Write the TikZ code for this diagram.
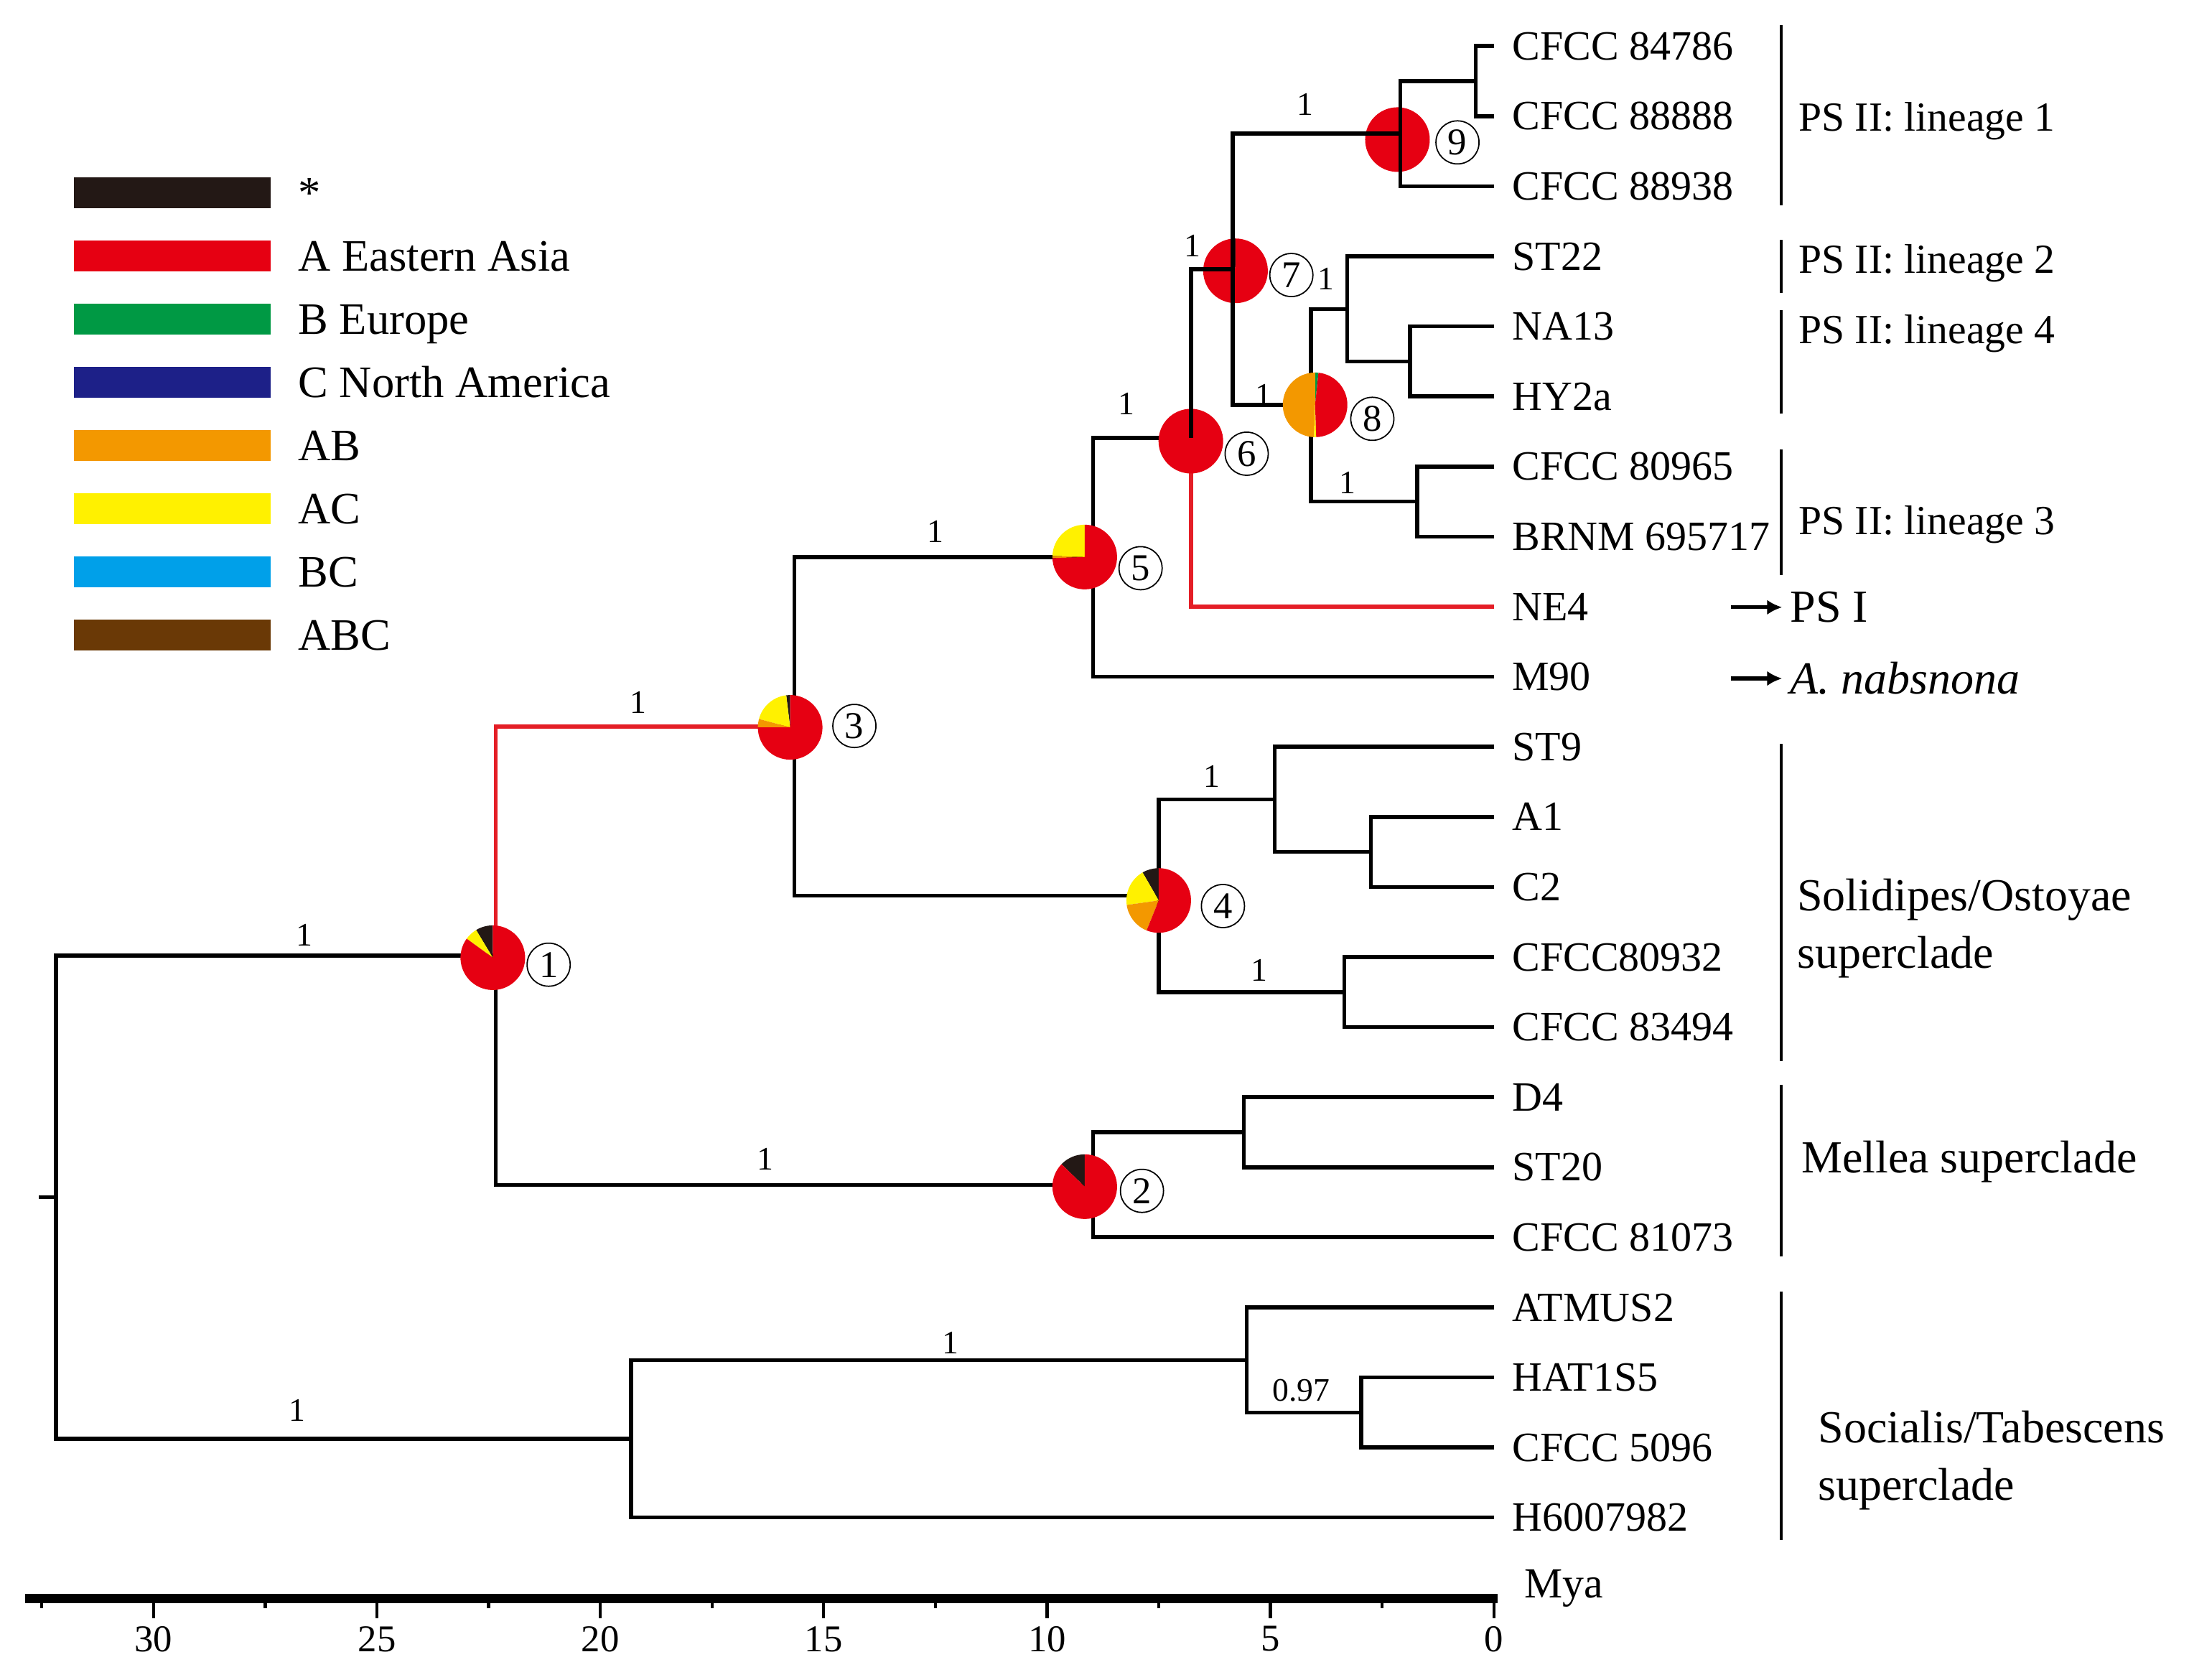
\documentclass[tikz,border=0pt]{standalone}
\usepackage{fontspec}
\setmainfont{Liberation Serif}
\usetikzlibrary{positioning,arrows.meta}

\definecolor{pblack}{RGB}{35,24,21}
\definecolor{pred}{RGB}{230,0,18}
\definecolor{pgreen}{RGB}{0,153,68}
\definecolor{pblue}{RGB}{29,32,136}
\definecolor{porange}{RGB}{243,152,0}
\definecolor{pyellow}{RGB}{255,241,0}
\definecolor{pcyan}{RGB}{0,160,233}
\definecolor{pbrown}{RGB}{106,57,6}
\definecolor{tred}{RGB}{228,30,38}

% one slice of an area pie: centre, from, to, colour
\newcommand{\pieslice}[4]{%
  \fill[#4] (#1) -- ++(#2:0.45cm) arc[start angle=#2, end angle=#3, radius=0.45cm] -- cycle;}

\begin{document}
\begin{tikzpicture}[x=0.019446cm, y=0.019446cm,
    treeline/.style={line width=1.6pt, line join=miter},
    redline/.style={treeline, draw=tred},
    leaf/.style={inner sep=0pt, text height=10.9pt, text depth=0pt, font=\fontsize{16.5}{18}\selectfont},
    lineage/.style={anchor=west, inner sep=0pt, text height=10.9pt, text depth=0pt, font=\fontsize{16.4}{18}\selectfont},
    clade/.style={anchor=west, inner sep=0pt, align=left, font=\fontsize{18.2}{22.7}\selectfont},
    support/.style={inner sep=0pt, font=\fontsize{13}{13}\selectfont},
    nodenum/.style={circle, draw, line width=0.5pt, minimum size=0.6cm, inner sep=0pt, font=\fontsize{15}{15}\selectfont},
    legbar/.style={minimum width=2.74cm, minimum height=0.43cm, inner sep=0pt},
    leglab/.style={inner sep=0pt, text height=11.9pt, text depth=0pt, font=\fontsize{17.8}{20}\selectfont},
    cladebar/.style={line width=1.1pt},
    axtick/.style={line width=1.2pt},
    axlab/.style={inner sep=0pt, font=\fontsize{15}{15}\selectfont}]
\useasboundingbox (0,0) rectangle (1568,-1203);

% Legend
\foreach \c/\txt [count=\k from 0] in {pblack/*, pred/A Eastern Asia, pgreen/B Europe, pblue/C North America,
    porange/AB, pyellow/AC, pcyan/BC, pbrown/ABC} {
  \pgfmathsetmacro{\yy}{-(138+45.3*\k)}
  \node[legbar, fill=\c] (bar\k) at (123.5,\yy) {};
  \node[leglab, right=0.37cm of bar\k] (leg\k) {\txt};
}

% Tips
\foreach \nm/\txt [count=\i from 0] in {t84786/CFCC 84786, t88888/CFCC 88888, t88938/CFCC 88938, tST22/ST22,
    tNA13/NA13, tHY2a/HY2a, t80965/CFCC 80965, tBRNM/BRNM 695717, tNE4/NE4, tM90/M90, tST9/ST9, tA1/A1, tC2/C2,
    t80932/CFCC80932, t83494/CFCC 83494, tD4/D4, tST20/ST20, t81073/CFCC 81073, tATMUS2/ATMUS2,
    tHAT1S5/HAT1S5, t5096/CFCC 5096, tH6007982/H6007982} {
  \pgfmathsetmacro{\yy}{-(33+50.19*\i)}
  \coordinate (\nm) at (1070,\yy);
  \node[leaf, right=0.25cm of \nm] (lab\nm) {\txt};
}

% Internal nodes
\coordinate (rstub) at (28,-857.6);
\coordinate (root) at (40,-857.6);
\coordinate (n1) at (355,-684.5);
\coordinate (n2) at (783,-848.7);
\coordinate (n2a) at (891,-811);
\coordinate (n3) at (569,-520.4);
\coordinate (n4) at (830,-641.6);
\coordinate (n4a) at (913,-572.6);
\coordinate (n4b) at (982,-610.2);
\coordinate (n4c) at (963,-710.6);
\coordinate (n5) at (783,-399.2);
\coordinate (n6) at (853,-313.8);
\coordinate (n7) at (883,-193);
\coordinate (n8) at (939,-290.2);
\coordinate (n8a) at (965,-221.3);
\coordinate (n8b) at (1010,-258.9);
\coordinate (n8c) at (1015,-359.2);
\coordinate (n9) at (1003,-95.8);
\coordinate (n9a) at (1057,-58.1);
\coordinate (r2) at (452,-1030.6);
\coordinate (r2a) at (893,-974.2);
\coordinate (r2b) at (975,-1011.8);

% Pie centres
\coordinate (p1) at (353,-686);
\coordinate (p2) at (777,-850);
\coordinate (p3) at (566,-521);
\coordinate (p4) at (830,-645);
\coordinate (p5) at (777,-399);
\coordinate (p6) at (853,-316);
\coordinate (p7) at (885,-194);
\coordinate (p8) at (942,-290);
\coordinate (p9) at (1001,-100);

% Branches under the pies
\draw[treeline] (rstub) -- (root);
\foreach \a/\b in {root/n1, root/r2, n1/n2, n3/n5, n3/n4, n5/n6, n5/tM90, n8/n8a, n8/n8c, n8a/tST22, n8a/n8b,
    n8b/tNA13, n8b/tHY2a, n8c/t80965, n8c/tBRNM, n4/n4a, n4/n4c, n4a/tST9, n4a/n4b, n4b/tA1, n4b/tC2,
    n4c/t80932, n4c/t83494, n2/n2a, n2/t81073, n2a/tD4, n2a/tST20, r2/r2a, r2/tH6007982, r2a/tATMUS2,
    r2a/r2b, r2b/tHAT1S5, r2b/t5096}
  \draw[treeline] (\a) |- (\b);
\draw[redline] (n1) |- (n3);
\draw[redline] (n6) |- (tNE4);

% Pies 6, 7, 9 (branches drawn over them)
\foreach \a/\b/\c in {0/360/pred} \pieslice{p6}{\a}{\b}{\c};
\foreach \a/\b/\c in {90/97/pblack, 97/450/pred} \pieslice{p7}{\a}{\b}{\c};
\foreach \a/\b/\c in {0/360/pred} \pieslice{p9}{\a}{\b}{\c};

\foreach \a/\b in {n6/n7, n7/n9, n7/n8, n9/n9a, n9/t88938, n9a/t84786, n9a/t88888}
  \draw[treeline] (\a) |- (\b);

% Other pies
\foreach \a/\b/\c in {90/121/pblack, 121/144/pyellow, 144/450/pred} \pieslice{p1}{\a}{\b}{\c};
\foreach \a/\b/\c in {90/136/pblack, 136/450/pred} \pieslice{p2}{\a}{\b}{\c};
\foreach \a/\b/\c in {90/97/pblack, 97/165/pyellow, 165/180/porange, 180/450/pred} \pieslice{p3}{\a}{\b}{\c};
\foreach \a/\b/\c in {90/120/pblack, 120/188/pyellow, 188/248/porange, 248/450/pred} \pieslice{p4}{\a}{\b}{\c};
\foreach \a/\b/\c in {90/178/pyellow, 178/182/porange, 182/450/pred} \pieslice{p5}{\a}{\b}{\c};
\foreach \a/\b/\c in {84/90/pgreen, 90/268/porange, 268/272/pyellow, 272/444/pred} \pieslice{p8}{\a}{\b}{\c};

% Node numbers
\foreach \k/\x/\y in {1/393/691, 2/818/853, 3/612/520, 4/876/649, 5/817/407, 6/893/325, 7/925/197, 8/983/300, 9/1044/102}
  \node[nodenum] (c\k) at (\x,-\y) {\k};

% Support values
\foreach \k/\x/\y/\v in {1/218/670/1, 2/213/1010/1, 3/457/503/1, 4/548/830/1, 5/670/381/1, 6/807/289/1,
    7/854/176/1, 8/935/75/1, 9/905/283/1, 10/950/200/1, 11/965/346/1, 12/868/556/1, 13/902/695/1,
    14/681/962/1, 15/932/996/0.97}
  \node[support] (s\k) at (\x,-\y) {\v};

% Clades
\draw[cladebar] (1276,-18) -- (1276,-147);
\draw[cladebar] (1276,-172) -- (1276,-210);
\draw[cladebar] (1276,-222) -- (1276,-296);
\draw[cladebar] (1276,-322) -- (1276,-412);
\draw[cladebar] (1276,-533) -- (1276,-760);
\draw[cladebar] (1276,-777) -- (1276,-900);
\draw[cladebar] (1276,-925) -- (1276,-1103);
\node[lineage] (lin1) at (1288,-84) {PS II: lineage 1};
\node[lineage] (lin2) at (1288,-186) {PS II: lineage 2};
\node[lineage] (lin4) at (1288,-236) {PS II: lineage 4};
\node[lineage] (lin3) at (1288,-373) {PS II: lineage 3};
\node[clade] (solid) at (1287,-665) {Solidipes/Ostoyae\\superclade};
\node[clade] (mellea) at (1290,-832) {Mellea superclade};
\node[clade] (social) at (1302,-1046) {Socialis/Tabescens\\superclade};

% Arrows
\coordinate (a1) at (1240,-435);
\coordinate (a2) at (1240,-486);
\node[clade] (psI) at (1282,-435) {PS I};
\node[clade] (nabs) at (1282,-486) {\itshape A. nabsnona};
\draw[line width=1.5pt, -{Latex[length=6pt,width=6pt]}, shorten >=3pt] (a1) -- (psI);
\draw[line width=1.5pt, -{Latex[length=6pt,width=6pt]}, shorten >=3pt] (a2) -- (nabs);

% Time axis
\draw[line width=3.5pt] (18,-1145) -- (1073,-1145);
\foreach \tm [count=\k] in {0,5,...,30} {
  \draw[axtick] (1070-32*\tm,-1145) -- ++(0,-14);
  \node[axlab] (ax\k) at (1070-32*\tm,-1174) {\tm};
}
\foreach \tm in {2.5,7.5,...,32.5}
  \draw[axtick] (1070-32*\tm,-1145) -- ++(0,-7);
\node[axlab, font=\fontsize{17}{17}\selectfont] (mya) at (1120,-1138) {Mya};
\end{tikzpicture}
\end{document}
